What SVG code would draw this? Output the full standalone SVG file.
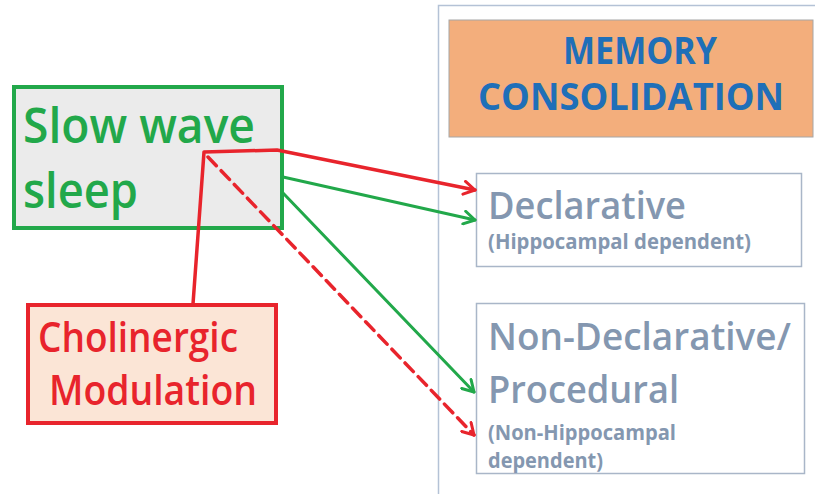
<svg xmlns="http://www.w3.org/2000/svg" width="815" height="494" viewBox="0 0 815 494">
<defs>
<style>
.t{font-family:"Open Sans",Lato,"Liberation Sans",sans-serif;font-variant-ligatures:none}
.big{font-weight:600}
.sm{font-weight:bold}
.slate{fill:#8497B0}
.edge{fill:none;stroke-linecap:round;stroke-linejoin:round}
</style>
<marker id="ar" markerWidth="16" markerHeight="16" refX="13" refY="8" orient="auto" markerUnits="userSpaceOnUse">
<path d="M2,1.5 L13,8 L2,14.5" fill="none" stroke="#E8242C" stroke-width="3" stroke-linecap="round" stroke-linejoin="round"/>
</marker>
<marker id="ag" markerWidth="16" markerHeight="16" refX="13" refY="8" orient="auto" markerUnits="userSpaceOnUse">
<path d="M2,1.5 L13,8 L2,14.5" fill="none" stroke="#22A84A" stroke-width="3" stroke-linecap="round" stroke-linejoin="round"/>
</marker>
</defs>
<rect width="815" height="494" fill="#FFFFFF"/>
<g id="panel">
<path d="M438.5,494 V5.5 H815" fill="none" stroke="#B4C2D6" stroke-width="1.5"/>
</g>
<g id="memory">
<rect x="449" y="20" width="364" height="117" fill="#F3AE7C" stroke="#A6A6A6" stroke-width="1"/>
<text class="t" x="640" y="64" text-anchor="middle" font-size="38" font-weight="bold" fill="#1F6FB8" textLength="154" lengthAdjust="spacingAndGlyphs">MEMORY</text>
<text class="t" x="631" y="110" text-anchor="middle" font-size="38" font-weight="bold" fill="#1F6FB8" textLength="306" lengthAdjust="spacingAndGlyphs">CONSOLIDATION</text>
</g>
<g id="declarative">
<rect x="476.5" y="173.5" width="325" height="93" fill="#FFFFFF" stroke="#A9B6C8" stroke-width="1.5"/>
<text class="t big slate" x="488" y="219" font-size="37" textLength="198" lengthAdjust="spacingAndGlyphs">Declarative</text>
<text class="t sm slate" x="488" y="249" font-size="21" textLength="263" lengthAdjust="spacingAndGlyphs">(Hippocampal dependent)</text>
</g>
<g id="nondeclarative">
<rect x="476.5" y="303.5" width="328" height="170" fill="#FFFFFF" stroke="#A9B6C8" stroke-width="1.5"/>
<text class="t big slate" x="488" y="350" font-size="37" textLength="303" lengthAdjust="spacingAndGlyphs">Non-Declarative/</text>
<text class="t big slate" x="488" y="403" font-size="37" textLength="191" lengthAdjust="spacingAndGlyphs">Procedural</text>
<text class="t sm slate" x="488" y="440" font-size="21" textLength="188" lengthAdjust="spacingAndGlyphs">(Non-Hippocampal</text>
<text class="t sm slate" x="488" y="468" font-size="21" textLength="115" lengthAdjust="spacingAndGlyphs">dependent)</text>
</g>
<g id="sws">
<rect x="14" y="87" width="268" height="141" fill="#EBEBEB" stroke="#22A84A" stroke-width="4"/>
<text class="t big" x="23" y="143" font-size="48" fill="#22A84A" textLength="232" lengthAdjust="spacingAndGlyphs">Slow wave</text>
<text class="t big" x="23" y="208" font-size="48" fill="#22A84A" textLength="115" lengthAdjust="spacingAndGlyphs">sleep</text>
</g>
<g id="cholinergic">
<rect x="28" y="305" width="248" height="118" fill="#FBE5D6" stroke="#E8242C" stroke-width="4"/>
<text class="t big" x="38" y="352" font-size="42" fill="#E8242C" textLength="200" lengthAdjust="spacingAndGlyphs">Cholinergic</text>
<text class="t big" x="49" y="405" font-size="42" fill="#E8242C" textLength="208" lengthAdjust="spacingAndGlyphs">Modulation</text>
</g>
<g id="connectors">
<path class="edge" d="M193,304 L204,152 L277,150 L475,190" stroke="#E8242C" stroke-width="3.5" marker-end="url(#ar)"/>
<path class="edge" d="M208,157 L474,435" stroke="#E8242C" stroke-width="3.5" stroke-dasharray="12,7" stroke-linecap="butt" marker-end="url(#ar)"/>
<path class="edge" d="M283,177 L475,220" stroke="#22A84A" stroke-width="3" marker-end="url(#ag)"/>
<path class="edge" d="M283,193 L474,392" stroke="#22A84A" stroke-width="3" marker-end="url(#ag)"/>
</g>
</svg>
